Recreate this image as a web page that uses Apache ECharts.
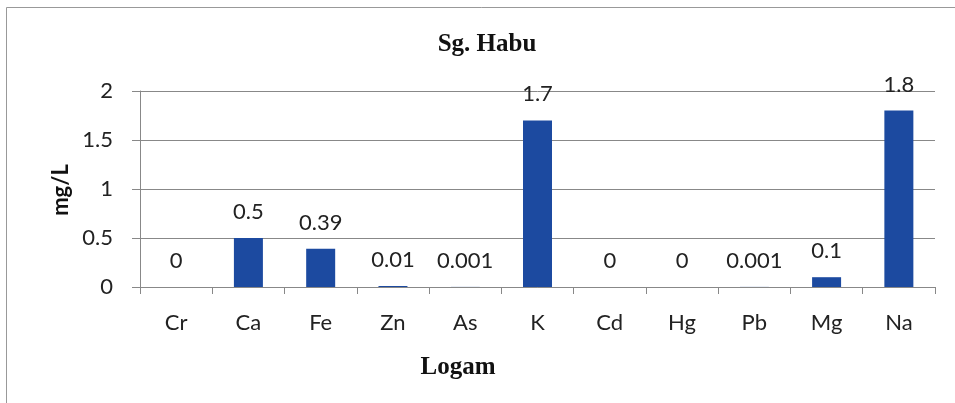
<!DOCTYPE html>
<html>
<head>
<meta charset="utf-8">
<script src="https://cdn.jsdelivr.net/npm/echarts@6/dist/echarts.min.js"></script>
<style>html,body{margin:0;padding:0;background:#fff}#c{width:955px;height:403px}</style>
</head>
<body>
<div id="c"></div>
<script>
var categories = ['Cr','Ca','Fe','Zn','As','K','Cd','Hg','Pb','Mg','Na'];
var values = [0, 0.5, 0.39, 0.01, 0.001, 1.7, 0, 0, 0.001, 0.1, 1.8];
var titleText = 'Sg. Habu';
var yName = 'mg/L';
var xName = 'Logam';

var chart = echarts.init(document.getElementById('c'), null, {renderer: 'canvas'});
var lbl = 'Lato, "Open Sans", sans-serif';
chart.setOption({
  animation: false,
  backgroundColor: '#fff',
  grid: {left: 140, right: 20, top: 91, bottom: 116, containLabel: false},
  graphic: [
    {type: 'rect', shape: {x: 6.5, y: 7.5, width: 1000, height: 500}, style: {fill: 'none', stroke: '#999', lineWidth: 1}, silent: true},
    {type: 'text', x: 487, y: 45, style: {text: titleText, font: 'bold 25px "Liberation Serif", "DejaVu Serif", serif', fill: '#111', textAlign: 'center', textVerticalAlign: 'middle'}},
    {type: 'text', x: 458, y: 368, style: {text: xName, font: 'bold 25px "Liberation Serif", "DejaVu Serif", serif', fill: '#111', textAlign: 'center', textVerticalAlign: 'middle'}},
    {type: 'text', x: 61, y: 190, rotation: Math.PI / 2, style: {text: yName, font: 'bold 22px Lato, "Open Sans", sans-serif', fill: '#111', textAlign: 'center', textVerticalAlign: 'middle'}}
  ],
  xAxis: {
    type: 'category',
    data: categories,
    axisLine: {lineStyle: {color: '#888', width: 1}},
    axisTick: {show: true, alignWithLabel: false, length: 7, lineStyle: {color: '#888'}},
    axisLabel: {color: '#222', fontFamily: lbl, fontSize: 22, margin: 25},
    splitLine: {show: false}
  },
  yAxis: {
    type: 'value',
    min: 0, max: 2, interval: 0.5,
    axisLine: {show: true, lineStyle: {color: '#888', width: 1}},
    axisTick: {show: true, length: 8, lineStyle: {color: '#888'}},
    axisLabel: {color: '#222', fontFamily: lbl, fontSize: 22, margin: 27},
    splitLine: {show: true, lineStyle: {color: '#888', width: 1}}
  },
  series: [{
    type: 'bar',
    data: values,
    barWidth: 29,
    itemStyle: {color: '#1c4aa0'},
    label: {show: true, position: 'top', distance: 15, color: '#222', fontFamily: lbl, fontSize: 22,
      formatter: function (p) { return String(p.value); }}
  }]
});
</script>
</body>
</html>
